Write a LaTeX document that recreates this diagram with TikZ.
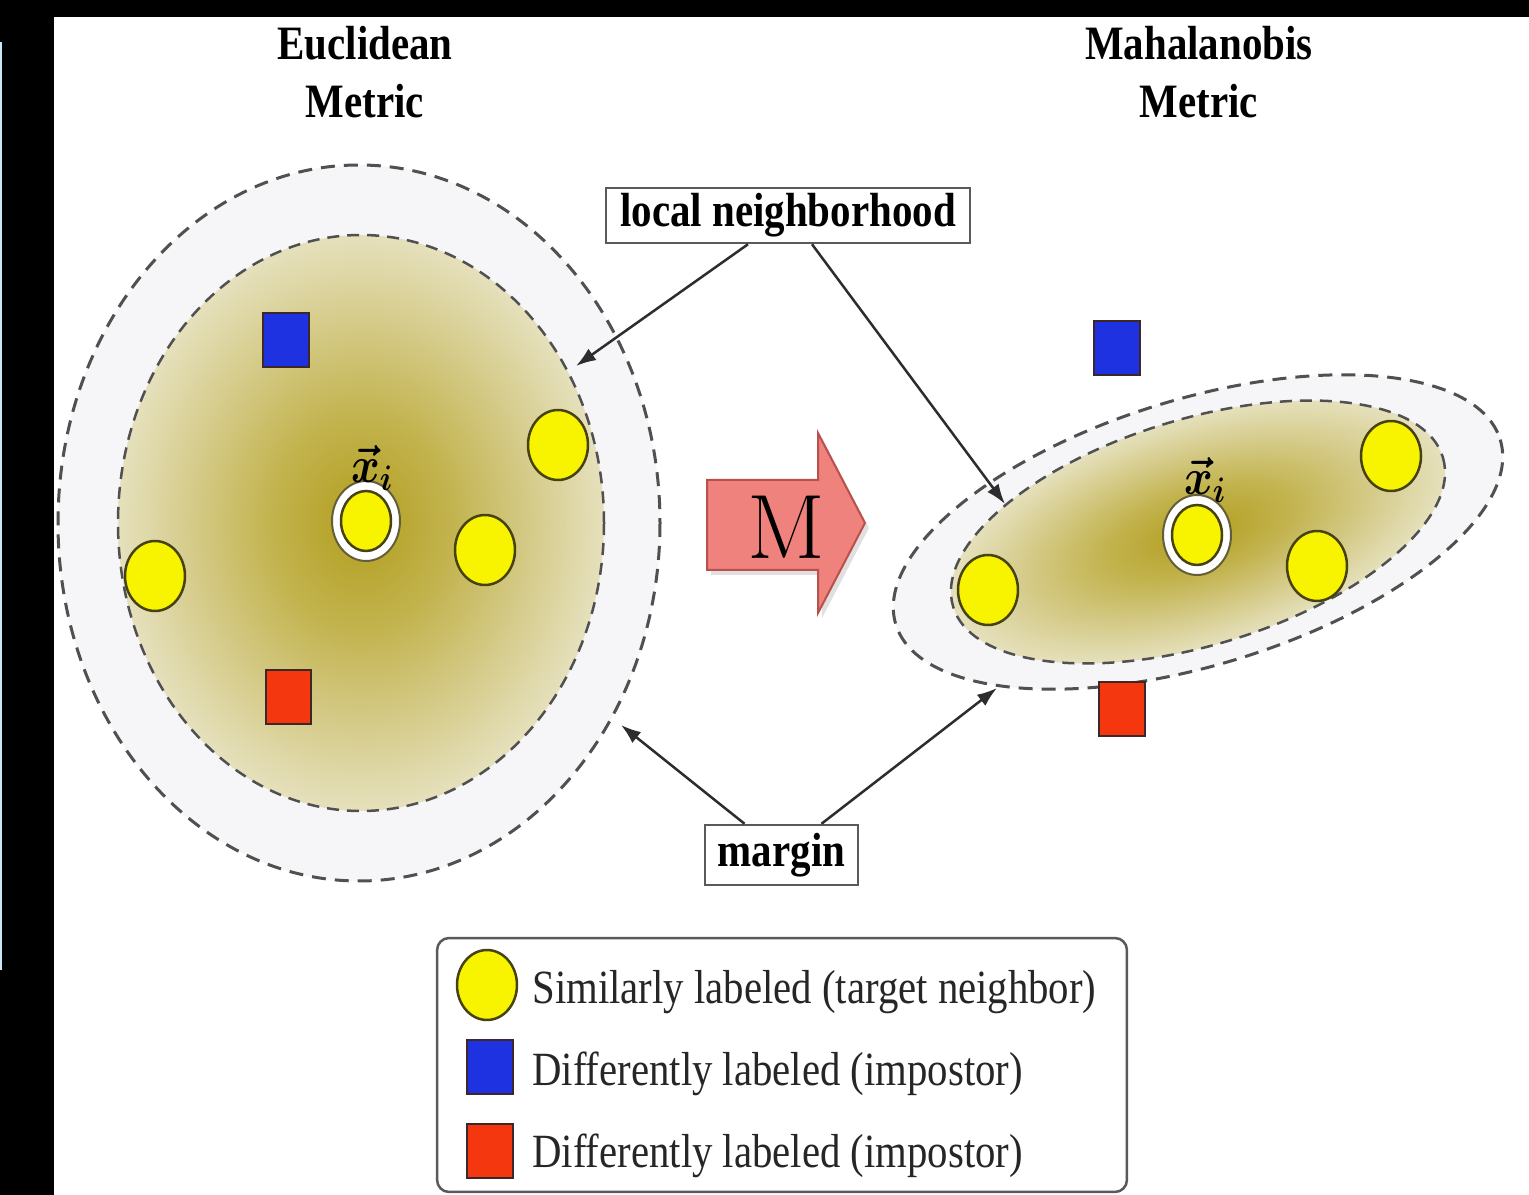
\documentclass[tikz,border=0pt]{standalone}
\usepackage{fontspec}
\usepackage{amsmath}
\usepackage{graphicx}
\newfontfamily\tnr{Liberation Serif}
\usetikzlibrary{shapes.geometric, arrows.meta, calc}

% palette
\definecolor{dotyellow}{RGB}{248,244,0}
\definecolor{dotedge}{RGB}{70,66,20}
\definecolor{impblue}{RGB}{30,50,225}
\definecolor{impred}{RGB}{245,55,15}
\definecolor{sqedge}{RGB}{60,40,40}
\definecolor{dashgray}{RGB}{80,80,80}
\definecolor{margingray}{RGB}{246,246,248}
\definecolor{arrowgray}{RGB}{45,45,45}
\definecolor{mfill}{RGB}{240,130,125}
\definecolor{medge}{RGB}{185,80,75}
\definecolor{legedge}{RGB}{90,90,90}
\definecolor{sidebar}{RGB}{205,232,245}

% olive neighbourhood fill: dark core fading to a pale rim
\pgfdeclareradialshading{olivefill}{\pgfpoint{0bp}{0bp}}{%
  rgb(0bp)=(0.70,0.62,0.12);
  rgb(9bp)=(0.76,0.70,0.30);
  rgb(18bp)=(0.84,0.80,0.55);
  rgb(25bp)=(0.90,0.88,0.74);
  rgb(50bp)=(0.90,0.88,0.74)}

% text is set slightly taller than wide
\newcommand{\tallt}[1]{\scalebox{1}[1.17]{#1}}

\begin{document}
\begin{tikzpicture}[x=0.02cm, y=-0.02cm,
  target/.style={ellipse, draw=dotedge, fill=dotyellow, line width=0.05cm,
    minimum width=1.2cm, minimum height=1.4cm, inner sep=0pt},
  qring/.style={ellipse, draw=dotedge!85, fill=white, line width=0.04cm,
    minimum width=1.36cm, minimum height=1.6cm, inner sep=0pt},
  qdot/.style={target, minimum width=1.0cm, minimum height=1.2cm},
  impostor/.style={rectangle, draw=sqedge, line width=0.04cm,
    minimum width=0.92cm, minimum height=1.08cm, inner sep=0pt},
  outerdash/.style={draw=dashgray, line width=0.06cm, dash pattern=on 0.28cm off 0.18cm},
  innerdash/.style={draw=dashgray, line width=0.05cm, dash pattern=on 0.24cm off 0.16cm},
  callout/.style={draw=arrowgray, line width=0.05cm, -{Latex[length=0.4cm, width=0.28cm]}},
  labelbox/.style={draw=legedge, line width=0.05cm, fill=white, inner sep=0pt,
    font=\tnr\bfseries\fontsize{23.3}{28}\selectfont},
  heading/.style={anchor=base, inner sep=0pt, font=\tnr\bfseries\fontsize{23.3}{28}\selectfont},
  legtext/.style={anchor=base west, inner sep=0pt, text=black!85,
    font=\tnr\fontsize{23.2}{28}\selectfont},
  xlabel/.style={inner sep=0pt, font=\fontsize{25}{30}\selectfont}
]
% frame
\useasboundingbox (0,0) rectangle (1529,1195);
\fill[black] (0,0) rectangle (1529,1195);
\fill[white] (54,17) rectangle (1529,1195);
\fill[sidebar] (0,42) rectangle (2.5,970);

% ---------- Euclidean neighbourhood ----------
\path[fill=margingray, outerdash] (359,523) ellipse [x radius=301, y radius=358];
\path[shade, shading=olivefill, innerdash] (361,523) ellipse [x radius=243, y radius=288];

% ---------- Mahalanobis neighbourhood (rotated) ----------
\begin{scope}[transform canvas={shift={(1198,532)}, rotate=17}]
  \path[fill=margingray, outerdash] (0,0) ellipse [x radius=316, y radius=133];
  \path[shade, shading=olivefill, innerdash] (0,0) ellipse [x radius=256, y radius=113];
\end{scope}

% ---------- headings ----------
\node[heading] (euc1) at (365,60) {\tallt{Euclidean}};
\node[heading] (euc2) at (365,118) {\tallt{Metric}};
\node[heading] (mah1) at (1199,60) {\tallt{Mahalanobis}};
\node[heading] (mah2) at (1199,118) {\tallt{Metric}};

% ---------- points, left ----------
\node[impostor, fill=impblue] (bL) at (286,340) {};
\node[impostor, fill=impred] (rL) at (288.5,697) {};
\node[target] (tL1) at (155,576) {};
\node[target] (tL2) at (485,550) {};
\node[target] (tL3) at (558,445) {};
\node[qring] (qL) at (366,521) {};
\node[qdot] (qLd) at (366,521) {};
\node[xlabel] (xL) at (372,468) {\tallt{$\boldsymbol{\vec{x}_i}$}};

% ---------- points, right ----------
\node[impostor, fill=impblue] (bR) at (1116.5,348) {};
\node[impostor, fill=impred] (rR) at (1121.5,709) {};
\node[target] (tR1) at (988,590) {};
\node[target] (tR2) at (1317,566) {};
\node[target] (tR3) at (1391,456) {};
\node[qring] (qR) at (1197,535) {};
\node[qdot] (qRd) at (1197,535) {};
\node[xlabel] (xR) at (1205,480) {\tallt{$\boldsymbol{\vec{x}_i}$}};

% ---------- transformation arrow ----------
\fill[black, opacity=0.12] (711,485) -- (822,485) -- (822,438) -- (869,528) -- (822,618) -- (822,575) -- (711,575) -- cycle;
\path[fill=mfill, draw=medge, line width=0.04cm]
  (707,480) -- (818,480) -- (818,433) -- (865,523) -- (818,613) -- (818,570) -- (707,570) -- cycle;
\node[inner sep=0pt, font=\fontsize{52}{60}\selectfont] (M) at (786,527) {M};

% ---------- callout labels ----------
\node[labelbox, minimum width=7.28cm, minimum height=1.1cm] (ln) at (788,215.5) {\tallt{local neighborhood}};
\node[labelbox, minimum width=3.06cm, minimum height=1.2cm] (mg) at (781.5,855) {\tallt{margin}};

\coordinate (lnL) at (576,366);
\coordinate (lnR) at (1005,504);
\coordinate (mgL) at (621,725);
\coordinate (mgR) at (997,688);

\draw[callout] ([xshift=-0.8cm]ln.south) -- (lnL);
\draw[callout] ([xshift=0.48cm]ln.south) -- (lnR);
\draw[callout] ([xshift=-0.74cm]mg.north) -- (mgL);
\draw[callout] ([xshift=0.8cm]mg.north) -- (mgR);

% ---------- legend ----------
\node[draw=legedge, line width=0.05cm, rounded corners=0.24cm,
  minimum width=13.8cm, minimum height=5.08cm, inner sep=0pt] (legend) at (782,1065) {};
\node[target] (lg1) at (487,985) {};
\node[impostor, fill=impblue] (lg2) at (490,1067) {};
\node[impostor, fill=impred] (lg3) at (490,1151) {};
\node[legtext] (lt1) at (532,1003) {\tallt{Similarly labeled (target neighbor)}};
\node[legtext] (lt2) at (532,1085) {\tallt{Differently labeled (impostor)}};
\node[legtext] (lt3) at (532,1167) {\tallt{Differently labeled (impostor)}};
\end{tikzpicture}
\end{document}
